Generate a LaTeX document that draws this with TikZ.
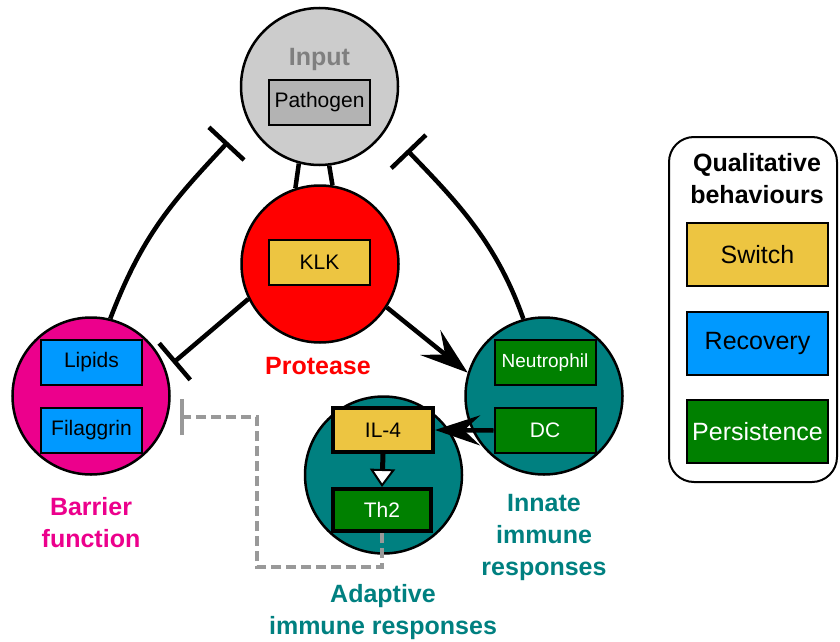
\documentclass[tikz,border=0pt]{standalone}
\usepackage{fontspec}
\setmainfont{Liberation Sans}
\usetikzlibrary{arrows.meta}

\definecolor{inputgray}{HTML}{CCCCCC}
\definecolor{pathogray}{HTML}{B3B3B3}
\definecolor{labelgray}{HTML}{7F7F7F}
\definecolor{switchyellow}{HTML}{EDC541}
\definecolor{recoveryblue}{HTML}{0099FF}
\definecolor{persistgreen}{HTML}{008000}
\definecolor{barriermag}{HTML}{EC008C}
\definecolor{immuneteal}{HTML}{008080}
\definecolor{dashgray}{HTML}{999999}

\begin{document}
\begin{tikzpicture}[x=1pt,y=-1pt,
  compartment/.style={circle, draw=black, line width=2.5pt, minimum size=157pt, inner sep=0pt},
  species/.style={draw=black, line width=2pt, minimum width=101pt, minimum height=45pt,
    inner sep=0pt, font=\fontsize{21}{25}\selectfont},
  heavyspecies/.style={species, line width=4pt},
  swbox/.style={fill=switchyellow, text=black},
  rcbox/.style={fill=recoveryblue, text=black},
  psbox/.style={fill=persistgreen, text=white},
  grouplabel/.style={font=\fontsize{25}{32}\selectfont\bfseries, align=center},
  conn/.style={line width=4.5pt},
  inhib/.style={conn, -{Bar[width=48pt]}},
  activ/.style={conn, -{Stealth[length=48pt,width=32pt,inset=19pt]}},
  legendbox/.style={species, line width=2pt, minimum width=141pt, minimum height=63pt,
    font=\fontsize{25}{30}\selectfont}
]
\useasboundingbox (0,0) rectangle (840,642);

% compartments
\node[compartment, fill=inputgray]   (input)    at (319.5,86.5) {};
\node[compartment, fill=red]         (protease) at (320,264) {};
\node[compartment, fill=barriermag]  (barrier)  at (91,396) {};
\node[compartment, fill=immuneteal]  (innate)   at (544,396) {};
\node[compartment, fill=immuneteal]  (adaptive) at (383.5,475) {};

% species inside the compartments
\node[grouplabel, text=labelgray] (inputlbl) at (319.5,59) {Input};
\node[species, fill=pathogray] (pathogen) at (319.5,102.5) {Pathogen};
\node[species, swbox] (klk) at (319.5,262.5) {KLK};
\node[species, rcbox] (lipids) at (91.5,362.5) {Lipids};
\node[species, rcbox] (filaggrin) at (91.5,430.5) {Filaggrin};
\node[species, psbox, font=\fontsize{19}{23}\selectfont] (neutro) at (545,362.5) {Neutrophil};
\node[species, psbox] (dc) at (545,430.5) {DC};
\node[heavyspecies, swbox, minimum width=100pt, minimum height=44pt] (il4) at (383,430) {IL-4};
\node[heavyspecies, psbox, minimum width=98pt, minimum height=42pt] (th2) at (382,510) {Th2};

% compartment labels
\node[grouplabel, text=red] (proteaselbl) at (318,366) {Protease};
\node[grouplabel, text=barriermag] (barrierlbl) at (91,523) {Barrier\\function};
\node[grouplabel, text=immuneteal] (innatelbl) at (544,537) {Innate\\immune\\responses};
\node[grouplabel, text=immuneteal] (adaptivelbl) at (383,612) {Adaptive\\immune responses};

% free ends of the inhibition connectors
\coordinate (inhL) at (228,142);
\coordinate (inhR) at (407,150);
\coordinate (inhB) at (173,363);
\coordinate (dashcorner) at (257,567);
\coordinate (inhD) at (180,417);

% input -- protease double link
\draw[conn] (input.255) -- (protease.108);
\draw[conn] (input.277) -- (protease.81);

% barrier and innate responses inhibit the input
\draw[inhib] (barrier.76) .. controls (143,233) and (174,200) .. (inhL);
\draw[inhib] (innate.105.6) .. controls (496,241) and (455,200) .. (inhR);

% protease inhibits barrier, activates innate responses
\draw[inhib] (protease.206) -- (inhB);
\draw[activ] (protease.-33) -- (innate.163.4);

% DC activates IL-4, IL-4 drives Th2
\draw[conn, -{Stealth[length=45pt,width=30pt,inset=16pt]}] (dc.west) -- (il4.east);
\draw[line width=5pt, -{Triangle[length=18pt,width=25pt,fill=white,line width=2pt]}] (il4.south) -- (th2.north);

% Th2 feedback on the barrier (dashed)
\draw[line width=3.5pt, dashgray, dash pattern=on 10pt off 5pt, -{Bar[width=36pt]}]
  (th2.south) |- (dashcorner) |- (inhD);

% legend
\node[draw=black, line width=2pt, rounded corners=25pt, minimum width=168pt, minimum height=345pt,
  inner sep=0pt] (legend) at (753,309.5) {};
\node[grouplabel] (legendtitle) at (757,179) {Qualitative\\behaviours};
\node[legendbox, swbox] (lgswitch) at (757.5,254.5) {Switch};
\node[legendbox, rcbox] (lgrecov) at (757.5,343.5) {Recovery};
\node[legendbox, psbox] (lgpersist) at (757.5,431.5) {Persistence};
\end{tikzpicture}
\end{document}
